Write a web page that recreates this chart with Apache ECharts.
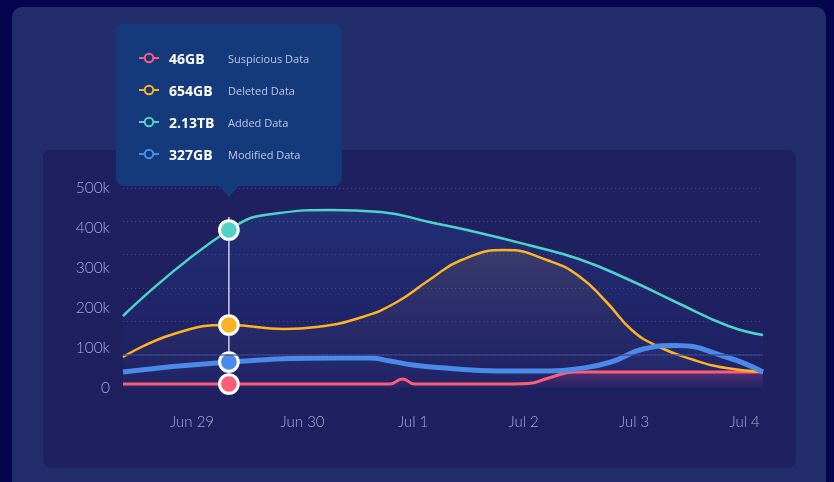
<!DOCTYPE html>
<html>
<head>
<meta charset="utf-8">
<script src="https://cdn.jsdelivr.net/npm/echarts@6/dist/echarts.min.js"></script>
<style>
  html, body { margin: 0; padding: 0; background: #05054f; }
  .outer {
    position: absolute; left: 12px; top: 7px; width: 814px; height: 500px;
    background: #232d6b; border-radius: 10px;
  }
  .inner {
    position: absolute; left: 43px; top: 150px; width: 753px; height: 318px;
    background: #1e2060; border-radius: 8px;
  }
  #chart { position: absolute; left: 0; top: 0; width: 834px; height: 482px; }
</style>
</head>
<body>
<div class="outer"></div>
<div class="inner"></div>
<div id="chart"></div>
<script>
// x values are hours from Jun 29 00:00
const dayLabels = ['Jun 29', 'Jun 30', 'Jul 1', 'Jul 2', 'Jul 3', 'Jul 4']
const dayHours = [0, 24, 48, 72, 96, 120]
const hoverHour = 8

const seriesNames = ['Suspicious Data', 'Deleted Data', 'Added Data', 'Modified Data']
const tipValues = ['46GB', '654GB', '2.13TB', '327GB']
const colors = ['#fc5d78', '#fdb422', '#4fd3c9', '#4a8ae8']

const suspiciousData = [
  [-15, 10000], [8, 10000], [40, 10000], [43, 10000], [45.7, 22500], [48.3, 10000],
  [51, 10000], [70, 10000], [73, 11000], [77.5, 25000], [83, 40000], [88, 40000], [124, 40000]
]
const deletedData = [
  [-15, 77500], [-4, 135000], [8, 157500], [20, 147500],
  [27, 152500], [37, 177500], [44.5, 215000], [51.5, 270000], [58.5, 320000], [68, 345000],
  [77.5, 318000], [84, 280000], [90, 215000], [95.5, 145000], [101, 105000], [109, 70000],
  [116, 50000], [124, 40000]
]
const addedData = [
  [-15, 180000], [8, 395000], [19, 437500], [30, 445000], [41, 440000],
  [51.5, 415000], [62.5, 387500], [73, 357500], [84, 322500], [95, 270000], [105.5, 212500],
  [116.5, 155000], [124, 132500]
]
const modifiedData = [
  [-15, 40000], [8, 65000], [31.5, 75000], [38.5, 75000], [43, 67500], [48, 57500],
  [55, 50000], [66, 42500], [77.5, 42500], [83.5, 47500], [91, 65000], [98, 97500],
  [105, 106000], [116, 77500], [124, 40000]
]
// vertical hover guide, from above the top point down to the lowest one
const guideData = [[hoverHour, 427500], [hoverHour, 10000]]

const chart = echarts.init(document.getElementById('chart'))

function grad(top, bottom) {
  return new echarts.graphic.LinearGradient(0, 0, 0, 1, [
    { offset: 0, color: top },
    { offset: 1, color: bottom }
  ])
}

// only the hovered point gets a marker
function withMarker(points, color) {
  return points.map(p => p[0] === hoverHour
    ? {
        value: p, symbol: 'circle', symbolSize: 17,
        itemStyle: { color: color, borderColor: '#fff', borderWidth: 3 }
      }
    : { value: p, symbol: 'none' })
}

function makeSeries(i, data, width, area) {
  return {
    name: seriesNames[i],
    type: 'line',
    smooth: true,
    z: 2,
    showSymbol: true,
    data: withMarker(data, colors[i]),
    lineStyle: { color: colors[i], width: width },
    itemStyle: { color: colors[i] },
    areaStyle: { color: area },
    emphasis: { disabled: true }
  }
}

const gridDot = 'rgba(120, 130, 200, 0.4)'

// drawing order: guide, added, suspicious, deleted, modified
const series = [
  {
    name: 'guide',
    type: 'line',
    z: 2,
    silent: true,
    symbol: 'none',
    data: guideData,
    lineStyle: { color: 'rgba(215, 215, 228, 0.85)', width: 1.5 },
    markLine: {
      silent: true,
      symbol: 'none',
      label: { show: false },
      data: [[{ coord: [-15, 500000 / 6] }, { coord: [124, 500000 / 6] }]],
      lineStyle: { type: 'solid', width: 2, color: 'rgba(60, 70, 140, 0.6)' }
    }
  },
  makeSeries(2, addedData, 2.5,
    grad('rgba(50, 100, 190, 0.34)', 'rgba(40, 60, 150, 0.05)')),
  makeSeries(0, suspiciousData, 3,
    grad('rgba(190, 60, 130, 0.55)', 'rgba(120, 40, 110, 0.05)')),
  makeSeries(1, deletedData, 2.5,
    grad('rgba(130, 105, 100, 0.38)', 'rgba(60, 60, 120, 0.08)')),
  makeSeries(3, modifiedData, 5,
    grad('rgba(70, 110, 220, 0.15)', 'rgba(60, 80, 180, 0.03)'))
]

function tooltipHtml() {
  let rows = ''
  for (let i = 0; i < seriesNames.length; i++) {
    const top = 34 + i * 32
    rows += '<div style="position:absolute;left:23px;top:' + (top - 10) + 'px;height:20px;display:flex;align-items:center;white-space:nowrap;">' +
      '<svg width="20" height="12" style="display:block"><line x1="0" y1="6" x2="20" y2="6" stroke="' + colors[i] + '" stroke-width="2"/>' +
      '<circle cx="10" cy="6" r="4.3" fill="#153a7b" stroke="' + colors[i] + '" stroke-width="2"/></svg>' +
      '<span style="display:inline-block;width:59px;margin-left:10px;color:#fff;font-weight:700;font-size:14px;">' + tipValues[i] + '</span>' +
      '<span style="color:#bcc6e8;font-size:11px;">' + seriesNames[i] + '</span></div>'
  }
  return '<div style="position:relative;width:226px;height:162px;background:#153a7b;border-radius:8px;font-family:\'Open Sans\',sans-serif;">' +
    rows +
    '<div style="position:absolute;left:103px;bottom:-11px;width:0;height:0;border-left:10px solid transparent;border-right:10px solid transparent;border-top:11px solid #153a7b;"></div>' +
    '</div>'
}

const option = {
  backgroundColor: 'transparent',
  animation: false,
  grid: { left: 123, right: 71, top: 188, bottom: 94 },
  tooltip: {
    trigger: 'axis',
    triggerOn: 'none',
    alwaysShowContent: true,
    transitionDuration: 0,
    padding: 0,
    borderWidth: 0,
    backgroundColor: 'transparent',
    extraCssText: 'box-shadow:none;',
    axisPointer: { type: 'none' },
    formatter: tooltipHtml,
    position: function () {
      const x = chart.convertToPixel({ xAxisIndex: 0 }, hoverHour)
      return [x - 113, 24]
    }
  },
  xAxis: {
    type: 'value',
    min: -15,
    max: 124,
    axisLine: { show: false },
    axisTick: { show: false },
    splitLine: { show: false },
    axisLabel: {
      customValues: dayHours,
      formatter: v => dayLabels[dayHours.indexOf(v)],
      color: '#a3abd6',
      fontSize: 15,
      fontFamily: 'Lato',
      fontWeight: 300,
      margin: 27
    }
  },
  yAxis: [
    {
      type: 'value',
      min: 0,
      max: 500000,
      interval: 100000,
      axisLine: { show: false },
      axisTick: { show: false },
      splitLine: { show: false },
      axisLabel: {
        formatter: v => v === 0 ? '0' : v / 1000 + 'k',
        color: '#a3abd6',
        fontSize: 15.5,
        fontFamily: 'Lato',
        fontWeight: 300,
        margin: 13
      }
    },
    {
      type: 'value',
      min: 0,
      max: 6,
      interval: 1,
      position: 'left',
      axisLine: { show: false },
      axisTick: { show: false },
      axisLabel: { show: false },
      splitLine: {
        show: true,
        lineStyle: {
          type: [1, 3],
          width: 1,
          color: ['transparent', gridDot, gridDot, gridDot, gridDot, gridDot, gridDot]
        }
      }
    }
  ],
  series: series
}

chart.setOption(option)
chart.dispatchAction({ type: 'showTip', seriesIndex: 1, dataIndex: addedData.findIndex(p => p[0] === hoverHour) })
</script>
</body>
</html>
